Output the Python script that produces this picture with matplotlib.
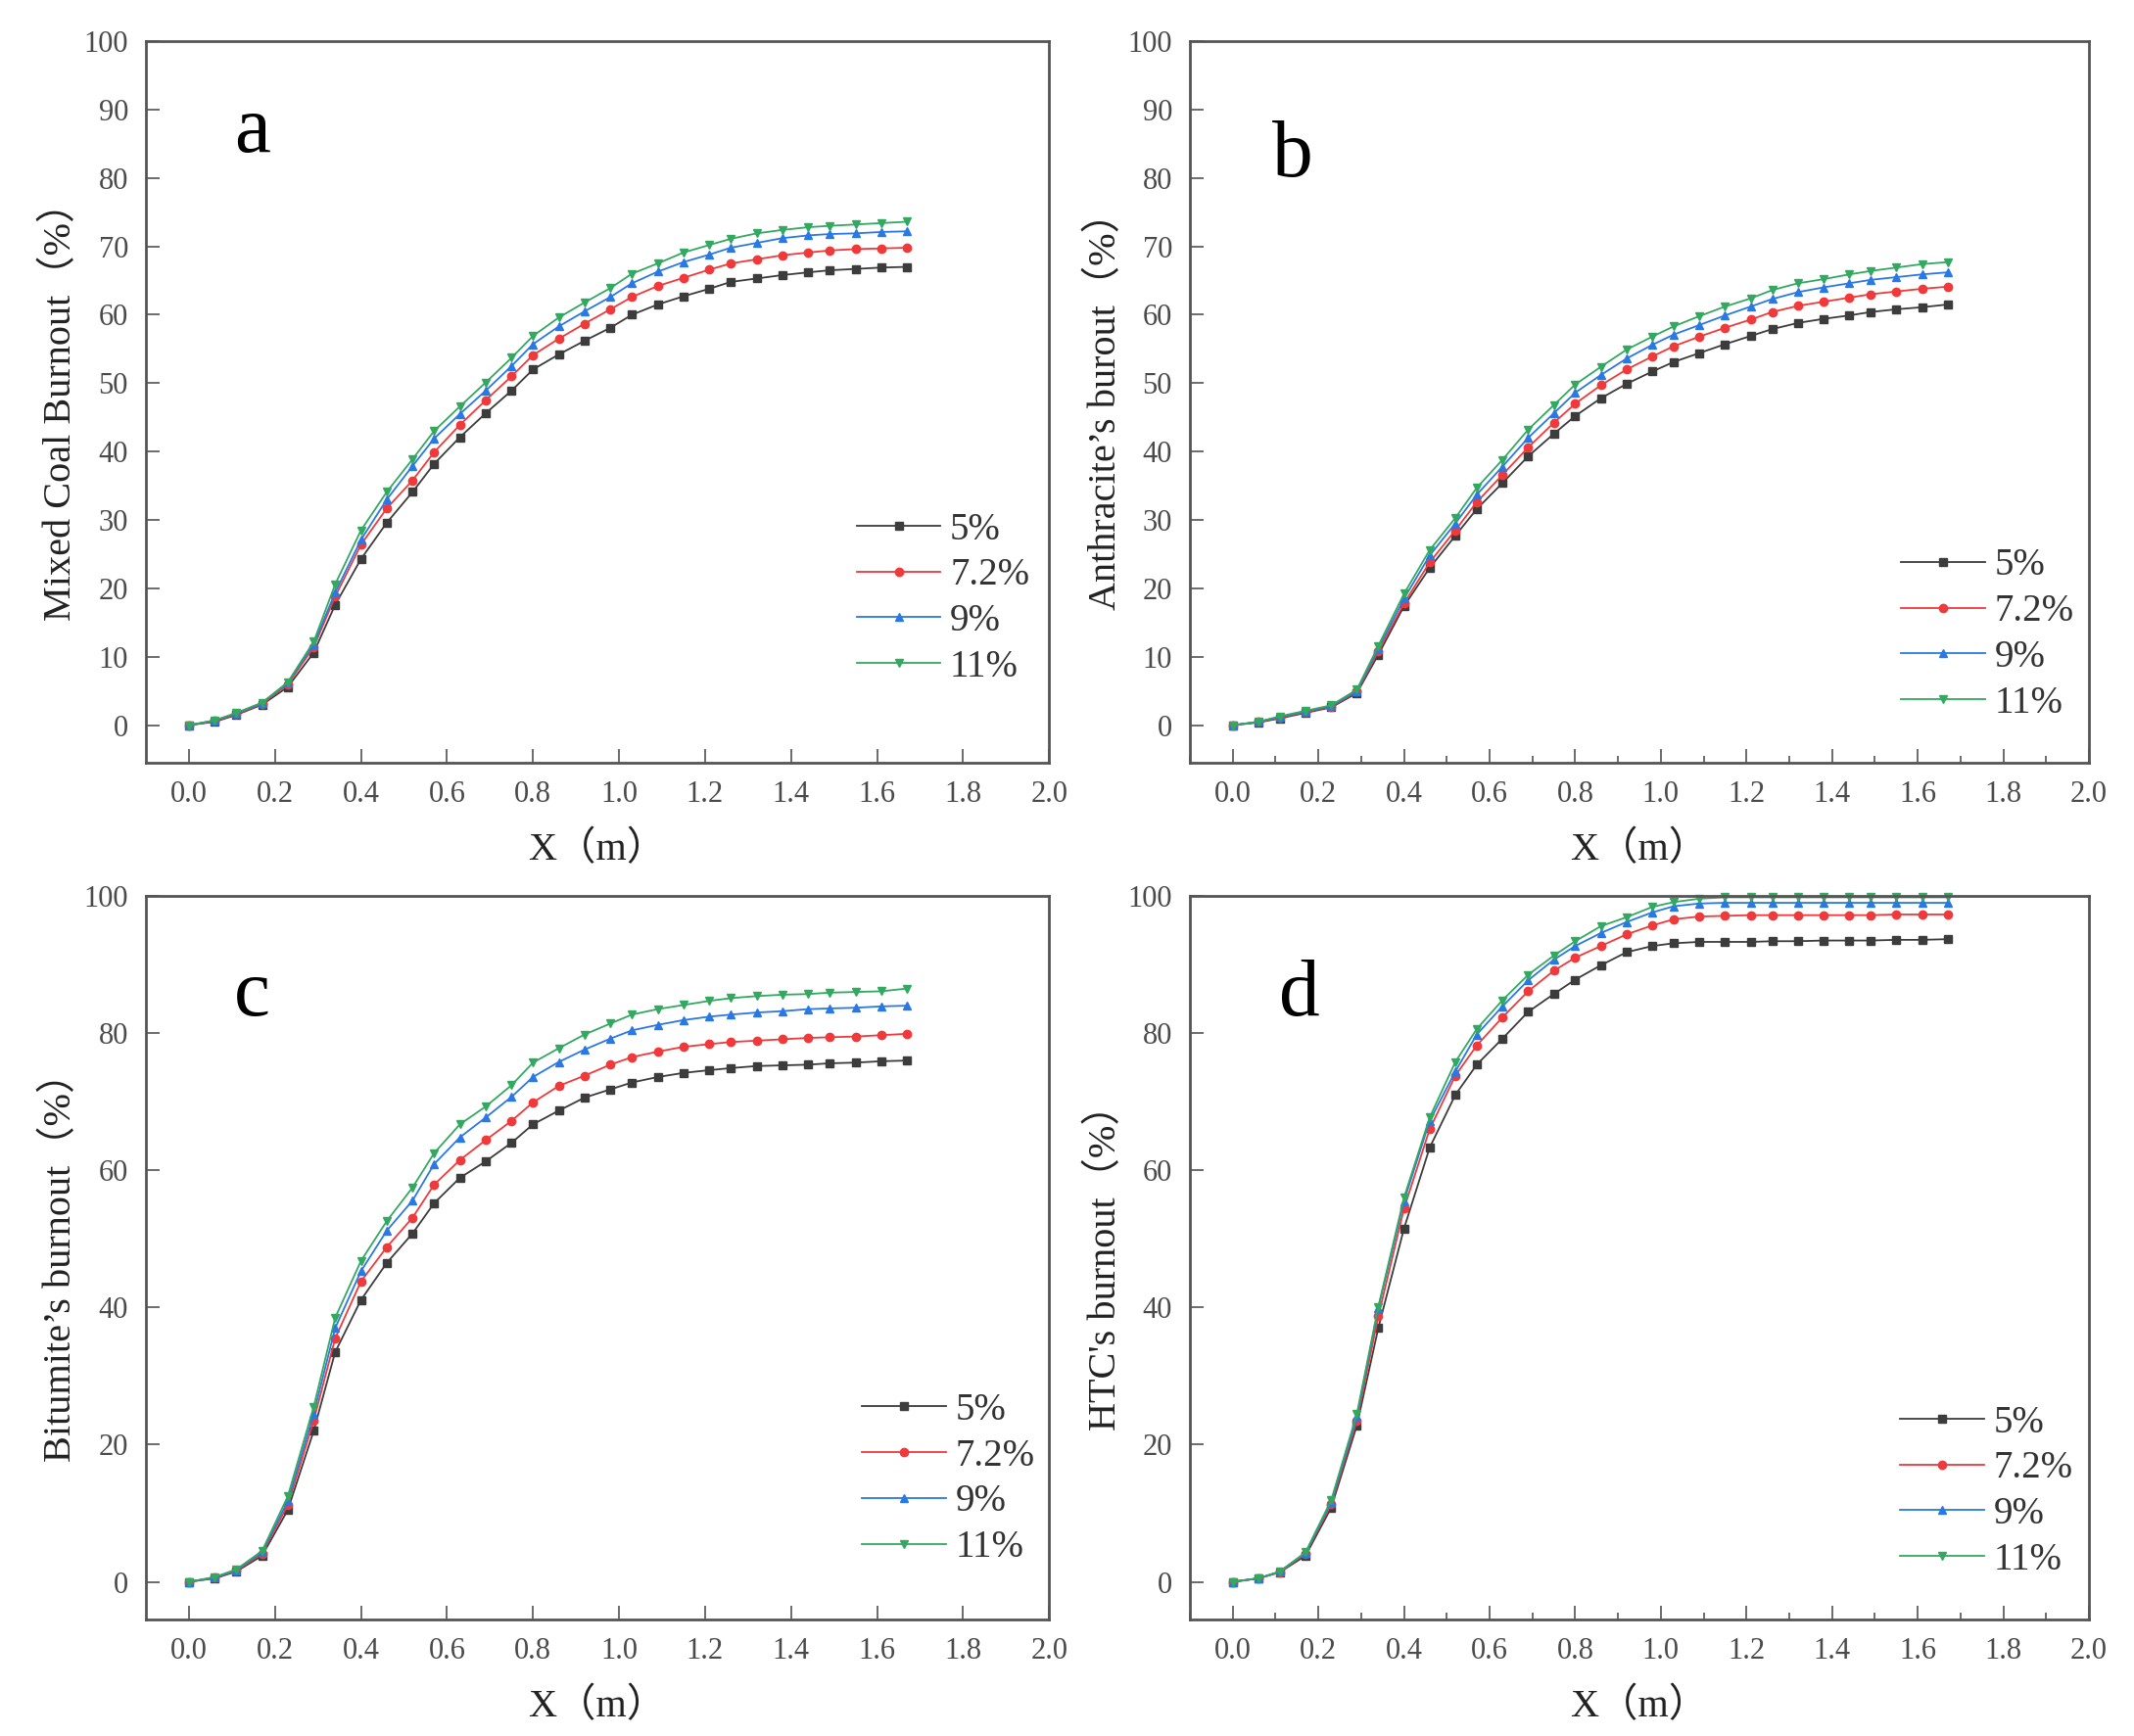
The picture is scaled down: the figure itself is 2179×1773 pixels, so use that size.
import numpy as np
import matplotlib
matplotlib.use("Agg")
import matplotlib.pyplot as plt
from matplotlib.ticker import MultipleLocator

plt.rcParams['font.family'] = ['Liberation Serif', 'Noto Sans CJK SC', 'DejaVu Sans']

# distance along the burner (m)
x = [0.00, 0.06, 0.11, 0.17, 0.23, 0.29, 0.34, 0.40, 0.46, 0.52,
     0.57, 0.63, 0.69, 0.75, 0.80, 0.86, 0.92, 0.98, 1.03, 1.09,
     1.15, 1.21, 1.26, 1.32, 1.38, 1.44, 1.49, 1.55, 1.61, 1.67]

labels = ["5%", "7.2%", "9%", "11%"]

# a - mixed coal
a5 = [0, 0.5, 1.5, 3.0, 5.6, 10.6, 17.6, 24.3, 29.6, 34.1, 38.2, 42.1, 45.6, 48.9, 52.0,
      54.2, 56.2, 58.1, 60.0, 61.5, 62.7, 63.8, 64.8, 65.3, 65.8, 66.2, 66.5, 66.7, 66.9, 67.0]
a72 = [0, 0.6, 1.6, 3.1, 6.0, 11.4, 18.8, 26.4, 31.7, 35.8, 39.9, 43.9, 47.5, 51.0, 54.1,
       56.5, 58.7, 60.8, 62.6, 64.2, 65.4, 66.6, 67.5, 68.1, 68.7, 69.1, 69.4, 69.6, 69.7, 69.8]
a9 = [0, 0.7, 1.7, 3.2, 6.2, 11.8, 19.4, 27.1, 33.0, 37.9, 41.9, 45.5, 48.9, 52.5, 55.7,
      58.3, 60.5, 62.6, 64.6, 66.3, 67.7, 68.8, 69.8, 70.5, 71.2, 71.6, 71.8, 71.9, 72.1, 72.2]
a11 = [0, 0.7, 1.8, 3.3, 6.3, 12.2, 20.6, 28.5, 34.1, 38.9, 43.0, 46.6, 50.1, 53.7, 56.9,
       59.6, 61.8, 63.9, 66.0, 67.5, 69.1, 70.2, 71.1, 71.9, 72.4, 72.8, 73.0, 73.2, 73.4, 73.6]

# b - anthracite
b5 = [0, 0.4, 1.0, 1.8, 2.6, 4.7, 10.3, 17.4, 23.0, 27.7, 31.6, 35.4, 39.3, 42.6, 45.2,
      47.8, 49.9, 51.7, 53.1, 54.4, 55.7, 56.9, 57.9, 58.8, 59.4, 59.9, 60.4, 60.8, 61.1, 61.5]
b72 = [0, 0.45, 1.1, 1.9, 2.7, 4.9, 10.8, 17.8, 23.8, 28.5, 32.6, 36.6, 40.6, 44.2, 47.0,
       49.7, 52.0, 53.9, 55.4, 56.8, 58.1, 59.3, 60.4, 61.3, 61.9, 62.5, 63.0, 63.4, 63.8, 64.1]
b9 = [0, 0.5, 1.2, 2.0, 2.8, 5.0, 11.2, 18.5, 24.8, 29.5, 33.7, 37.8, 42.0, 45.6, 48.6,
      51.2, 53.6, 55.6, 57.1, 58.5, 59.9, 61.2, 62.3, 63.3, 64.0, 64.6, 65.1, 65.5, 65.9, 66.2]
b11 = [0, 0.5, 1.3, 2.1, 2.9, 5.2, 11.6, 19.2, 25.6, 30.3, 34.7, 38.8, 43.2, 46.8, 49.8,
       52.4, 54.9, 56.8, 58.3, 59.8, 61.2, 62.4, 63.6, 64.6, 65.2, 65.9, 66.4, 66.9, 67.4, 67.7]

# c - bitumite
c5 = [0, 0.5, 1.5, 3.8, 10.5, 22.0, 33.5, 41.1, 46.5, 50.8, 55.2, 58.9, 61.3, 64.0, 66.7,
      68.7, 70.6, 71.8, 72.8, 73.6, 74.2, 74.6, 74.9, 75.2, 75.3, 75.4, 75.6, 75.7, 75.9, 76.0]
c72 = [0, 0.6, 1.6, 4.1, 11.2, 23.5, 35.5, 43.8, 48.8, 53.1, 57.9, 61.5, 64.4, 67.2, 69.9,
       72.3, 73.8, 75.4, 76.5, 77.3, 78.0, 78.4, 78.7, 78.9, 79.1, 79.3, 79.4, 79.5, 79.7, 79.9]
c9 = [0, 0.6, 1.7, 4.3, 11.8, 24.5, 37.0, 45.3, 51.2, 55.6, 60.9, 64.8, 67.7, 70.7, 73.6,
      75.8, 77.6, 79.2, 80.4, 81.2, 81.9, 82.4, 82.7, 83.0, 83.2, 83.5, 83.6, 83.7, 83.9, 84.0]
c11 = [0, 0.7, 1.8, 4.5, 12.5, 25.5, 38.5, 46.8, 52.6, 57.5, 62.5, 66.7, 69.3, 72.4, 75.7,
       77.8, 79.8, 81.4, 82.7, 83.5, 84.1, 84.7, 85.1, 85.4, 85.6, 85.7, 85.9, 86.0, 86.1, 86.5]

# d - HTC
d5 = [0, 0.5, 1.4, 3.8, 10.8, 22.8, 37.0, 51.5, 63.3, 71.0, 75.4, 79.2, 83.1, 85.7, 87.8,
      89.9, 91.8, 92.7, 93.1, 93.3, 93.3, 93.3, 93.4, 93.4, 93.5, 93.5, 93.5, 93.6, 93.6, 93.7]
d72 = [0, 0.5, 1.4, 4.1, 11.3, 23.5, 38.7, 54.4, 66.0, 73.8, 78.2, 82.3, 86.1, 89.1, 91.0,
       92.7, 94.4, 95.7, 96.6, 97.0, 97.1, 97.2, 97.2, 97.2, 97.2, 97.2, 97.2, 97.3, 97.3, 97.3]
d9 = [0, 0.5, 1.5, 4.2, 11.6, 24.0, 39.9, 55.5, 67.2, 74.4, 79.8, 83.9, 87.7, 90.7, 92.7,
      94.6, 96.2, 97.6, 98.5, 98.9, 99.0, 99.0, 99.0, 99.0, 99.0, 99.0, 99.0, 99.0, 99.0, 99.0]
d11 = [0, 0.5, 1.5, 4.3, 11.9, 24.5, 40.1, 56.0, 67.7, 75.8, 80.6, 84.8, 88.5, 91.3, 93.4,
       95.6, 96.9, 98.4, 99.1, 99.6, 99.8, 99.8, 99.8, 99.8, 99.8, 99.8, 99.8, 99.8, 99.8, 99.8]

colors = ['#3c3c3c', '#f0393a', '#2a78e4', '#33a860']
markers = ['s', 'o', '^', 'v']

panels = [
    dict(letter='a', ylabel='Mixed Coal Burnout（%）', series=[a5, a72, a9, a11], ystep=10,
         rect=[0.0684, 0.5606, 0.4232, 0.4157], xminor=False, letpos=(0.118, 0.874), leg=(0.787, 0.348)),
    dict(letter='b', ylabel='Anthracite’s burout（%）', series=[b5, b72, b9, b11], ystep=10,
         rect=[0.5576, 0.5606, 0.4213, 0.4157], xminor=True, letpos=(0.114, 0.840), leg=(0.791, 0.298)),
    dict(letter='c', ylabel='Bitumite’s burnout（%）', series=[c5, c72, c9, c11], ystep=20,
         rect=[0.0684, 0.0671, 0.4232, 0.4168], xminor=False, letpos=(0.118, 0.862), leg=(0.793, 0.314)),
    dict(letter='d', ylabel="HTC's burnout（%）", series=[d5, d72, d9, d11], ystep=20,
         rect=[0.5576, 0.0671, 0.4213, 0.4168], xminor=True, letpos=(0.122, 0.862), leg=(0.790, 0.297)),
]

fig = plt.figure(figsize=(21.79, 17.73), dpi=100)

for p in panels:
    ax = fig.add_axes(p['rect'])
    for ys, c, m, lab in zip(p['series'], colors, markers, labels):
        ax.plot(x, ys, color=c, marker=m, markersize=6, linewidth=1.3, label=lab, clip_on=False)

    ax.set_xlim(-0.1, 2.0)
    ax.set_ylim(-5.5, 100)
    ax.xaxis.set_major_locator(MultipleLocator(0.2))
    ax.yaxis.set_major_locator(MultipleLocator(p['ystep']))
    ax.xaxis.set_major_formatter(plt.FuncFormatter(lambda v, pos: '%.1f' % v))
    if p['xminor']:
        ax.xaxis.set_minor_locator(MultipleLocator(0.1))
    ax.tick_params(which='major', direction='in', length=10, width=1.1, color='#444444',
                   labelsize=22, labelcolor='#4a4a4a', pad=13, top=False, right=False)
    ax.tick_params(which='minor', direction='in', length=5, width=1.1, color='#444444',
                   top=False, right=False)
    for s in ax.spines.values():
        s.set_color('#555555')
        s.set_linewidth(2)

    ax.set_ylabel(p['ylabel'], fontsize=29, color='#222222', va='center')
    ax.yaxis.set_label_coords(-0.094, 0.5)
    ax.set_xlabel('X（m）', fontsize=29, color='#222222', va='center')
    ax.xaxis.set_label_coords(0.5, -0.12)

    ax.text(p['letpos'][0], p['letpos'][1], p['letter'], transform=ax.transAxes,
            fontsize=60, ha='center', va='center', color='black')

    ax.legend(loc='upper left', bbox_to_anchor=p['leg'], frameon=False, fontsize=28,
              handlelength=2.2, handletextpad=0.25, labelspacing=0.25,
              borderpad=0, borderaxespad=0, labelcolor='#333333')

fig.savefig('out.png', dpi=100)
